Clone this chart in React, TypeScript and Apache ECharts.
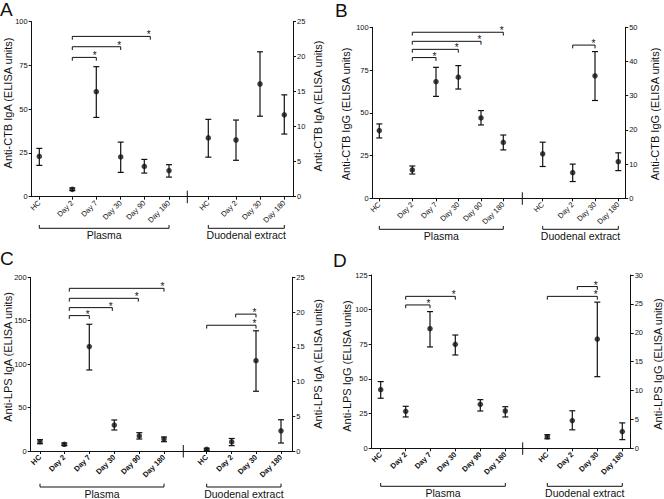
import React, { useEffect, useRef } from "react";
import * as echarts from "echarts";

// ---------- categories ----------
const plasmaCats = ["HC", "Day 2", "Day 7", "Day 30", "Day 90", "Day 180"];
const duodenalCats = ["HC", "Day 2", "Day 30", "Day 180"];
const groupNames = ["Plasma", "Duodenal extract"];

// ---------- Panel A : Anti-CTB IgA ----------
const aPlasmaMean = [23, 4.2, 60, 22.7, 17.3, 14.9];
const aPlasmaLow = [17.9, 3.5, 45.3, 13.9, 13.5, 11.2];
const aPlasmaHigh = [27.6, 5.0, 74.3, 31.2, 21.3, 18.3];
const aDuoMean = [8.4, 8.1, 16.1, 11.7];
const aDuoLow = [5.65, 5.2, 11.5, 8.95];
const aDuoHigh = [11.05, 10.95, 20.7, 14.55];
const aSigPlasma = [[1, 2, 79.6], [1, 3, 85.7], [1, 4, 91.6]];
const aSigDuo: number[][] = [];

// ---------- Panel B : Anti-CTB IgG ----------
const bPlasmaMean = [39.6, 16.6, 68.2, 70.8, 47, 32.7];
const bPlasmaLow = [35.3, 14.2, 59.6, 63.9, 42.9, 28.3];
const bPlasmaHigh = [43.5, 18.9, 76.6, 77.6, 51.3, 37];
const bDuoMean = [13.0, 7.5, 35.8, 10.7];
const bDuoLow = [9.3, 4.9, 28.6, 8.1];
const bDuoHigh = [16.4, 10.0, 42.9, 13.3];
const bSigPlasma = [[1, 2, 82.3], [1, 3, 87.1], [1, 4, 91.8], [1, 5, 97.1]];
const bSigDuo = [[1, 2, 44.8]];

// ---------- Panel C : Anti-LPS IgA ----------
const cPlasmaMean = [10.7, 7.7, 120.2, 29.9, 17.3, 13.8];
const cPlasmaLow = [8.4, 6.2, 93.3, 24.2, 13.8, 10.7];
const cPlasmaHigh = [13, 9.2, 145.9, 35.7, 21.1, 16.1];
const cDuoMean = [0.24, 1.3, 13.0, 2.9];
const cDuoLow = [0.1, 0.77, 8.6, 1.15];
const cDuoHigh = [0.4, 1.8, 17.3, 4.5];
const cSigPlasma = [[1, 2, 155.9], [1, 3, 165.1], [1, 4, 175.8], [1, 5, 187.3]];
const cSigDuo = [[0, 2, 18.1], [1, 2, 19.7]];

// ---------- Panel D : Anti-LPS IgG ----------
const dPlasmaMean = [42.3, 26.7, 86.3, 75, 31.7, 26.9];
const dPlasmaLow = [36.1, 22.6, 73.1, 67.3, 26.9, 22.6];
const dPlasmaHigh = [48.1, 30.3, 98.6, 81.7, 35.1, 30];
const dDuoMean = [2.0, 4.8, 18.9, 2.9];
const dDuoLow = [1.65, 3.2, 12.4, 1.5];
const dDuoHigh = [2.35, 6.5, 25.3, 4.4];
const dSigPlasma = [[1, 2, 103.4], [1, 3, 109.6]];
const dSigDuo = [[0, 2, 26.3], [1, 2, 28.0]];

// ---------- layout (positions / styles) ----------
const INK = "#111";
const FONT = "'Liberation Sans', Arial, Helvetica, sans-serif";

const panels = [
  {
    letter: "A", letterPos: [0, 0],
    grid: { left: 31.7, top: 21.7, width: 261.3, height: 175 },
    plasmaX: [7.6, 40.6, 64.6, 89, 112.6, 137.3], duoX: [176.6, 204.3, 228.3, 252.6], breakX: 155.6,
    leftMax: 100, leftInt: 25, rightMax: 25, rightInt: 5,
    title: "Anti-CTB IgA (ELISA units)", titleL: [8.3, 103], titleR: [318.3, 106],
    groupGap: 31.6, catFont: 7.5, catWeight: "normal",
    mean: aPlasmaMean, low: aPlasmaLow, high: aPlasmaHigh,
    dMean: aDuoMean, dLow: aDuoLow, dHigh: aDuoHigh,
    sigP: aSigPlasma, sigD: aSigDuo, sigPShift: [[0, 0], [0, 0], [0, 6]], sigDShift: [] as number[][],
  },
  {
    letter: "B", letterPos: [335, 0.5],
    grid: { left: 372.7, top: 27.3, width: 252.5, height: 171 },
    plasmaX: [6.6, 39.6, 63.3, 85.6, 108.3, 130.6], duoX: [170, 200, 222.3, 245.6], breakX: 149.6,
    leftMax: 100, leftInt: 25, rightMax: 50, rightInt: 10,
    title: "Anti-CTB IgG (ELISA units)", titleL: [346, 114], titleR: [654.7, 114],
    groupGap: 31, catFont: 7.5, catWeight: "normal",
    mean: bPlasmaMean, low: bPlasmaLow, high: bPlasmaHigh,
    dMean: bDuoMean, dLow: bDuoLow, dHigh: bDuoHigh,
    sigP: bSigPlasma, sigD: bSigDuo, sigPShift: [[0, 0], [0, 0], [0, 0], [0, 0]], sigDShift: [[0, 0]],
  },
  {
    letter: "C", letterPos: [0, 249],
    grid: { left: 30.7, top: 277.3, width: 261.6, height: 173.7 },
    plasmaX: [9.3, 33.6, 58.6, 83.6, 108.6, 133.3], duoX: [176, 201, 225.3, 250.3], breakX: 152.6,
    leftMax: 200, leftInt: 50, rightMax: 25, rightInt: 5,
    title: "Anti-LPS IgA (ELISA units)", titleL: [8.3, 357], titleR: [318.3, 364],
    groupGap: 36, catFont: 7.5, catWeight: "bold",
    mean: cPlasmaMean, low: cPlasmaLow, high: cPlasmaHigh,
    dMean: cDuoMean, dLow: cDuoLow, dHigh: cDuoHigh,
    sigP: cSigPlasma, sigD: cSigDuo, sigPShift: [[5, 0], [5, -2], [5, -1], [5, 0]], sigDShift: [[0, 0], [4, 0]],
  },
  {
    letter: "D", letterPos: [333, 250.5],
    grid: { left: 371.7, top: 275, width: 259, height: 173.3 },
    plasmaX: [9, 34, 58.3, 83.6, 108.6, 133.6], duoX: [175.6, 200.6, 225.6, 250.6], breakX: 151,
    leftMax: 125, leftInt: 25, rightMax: 30, rightInt: 5,
    title: "Anti-LPS IgG (ELISA units)", titleL: [347, 366], titleR: [657.5, 364],
    groupGap: 38, catFont: 7.5, catWeight: "bold",
    mean: dPlasmaMean, low: dPlasmaLow, high: dPlasmaHigh,
    dMean: dDuoMean, dLow: dDuoLow, dHigh: dDuoHigh,
    sigP: dSigPlasma, sigD: dSigDuo, sigPShift: [[0, 0], [0, 0]], sigDShift: [[0, 0], [5, 0]],
  },
];

const errRender = (params: any, api: any) => {
  const x = api.value(0);
  const lo = api.value(1);
  const hi = api.value(2);
  const a = api.coord([x, hi]);
  const b = api.coord([x, lo]);
  const w = 3;
  const st = { stroke: INK, lineWidth: 1.2 };
  return {
    type: "group",
    children: [
      { type: "line", shape: { x1: a[0], y1: a[1], x2: b[0], y2: b[1] }, style: st },
      { type: "line", shape: { x1: a[0] - w, y1: a[1], x2: a[0] + w, y2: a[1] }, style: st },
      { type: "line", shape: { x1: b[0] - w, y1: b[1], x2: b[0] + w, y2: b[1] }, style: st },
    ],
  };
};

const sigRender = (params: any, api: any) => {
  const x1 = api.value(0);
  const y = api.value(1);
  const x2 = api.value(2);
  const p1 = api.coord([x1, y]);
  const p2 = api.coord([x2, y]);
  return {
    type: "group",
    children: [
      {
        type: "polyline",
        shape: { points: [[p1[0], p1[1] + 3.3], [p1[0], p1[1]], [p2[0], p2[1]], [p2[0], p2[1] + 3.3]] },
        style: { stroke: INK, fill: "none", lineWidth: 1 },
      },
      {
        type: "text",
        x: p2[0] - 1.5,
        y: p2[1] + 3.5,
        style: { text: "*", fontSize: 10, fontFamily: FONT, fill: INK, align: "center", verticalAlign: "bottom" },
      },
    ],
  };
};

const breakRender = (params: any, api: any) => {
  const p = api.coord([api.value(0), 0]);
  return {
    type: "line",
    shape: { x1: p[0], y1: p[1] - 6, x2: p[0], y2: p[1] + 6.5 },
    style: { stroke: INK, lineWidth: 1 },
  };
};

const makeGroupRender = (gap: number) => (params: any, api: any) => {
  const p1 = api.coord([api.value(0), 0]);
  const p2 = api.coord([api.value(2), 0]);
  const y = p1[1] + gap;
  return {
    type: "group",
    children: [
      {
        type: "polyline",
        shape: { points: [[p1[0], y - 3.3], [p1[0], y], [p2[0], y], [p2[0], y - 3.3]] },
        style: { stroke: INK, fill: "none", lineWidth: 1 },
      },
      {
        type: "text",
        x: (p1[0] + p2[0]) / 2,
        y: y + 1.5,
        style: {
          text: groupNames[params.dataIndex], fontSize: 10.5, fontFamily: FONT, fill: INK,
          align: "center", verticalAlign: "top",
        },
      },
    ],
  };
};

function buildOption() {
  const grid: any[] = [];
  const xAxis: any[] = [];
  const yAxis: any[] = [];
  const series: any[] = [];
  const graphic: any[] = [];

  panels.forEach((p, i) => {
    grid.push({ ...p.grid });
    const xs = [...p.plasmaX, ...p.duoX];
    const names = [...plasmaCats, ...duodenalCats];
    xAxis.push({
      gridIndex: i, type: "value", min: 0, max: p.grid.width,
      axisLine: { show: true, onZero: false, lineStyle: { color: INK, width: 1 } },
      axisTick: { show: true, customValues: xs, length: 3, lineStyle: { color: INK, width: 1 } },
      axisLabel: {
        show: true, customValues: xs, rotate: 45, margin: 5, fontSize: p.catFont,
        fontWeight: p.catWeight, color: INK, fontFamily: FONT,
        formatter: (v: number) => {
          const k = xs.indexOf(v);
          return k >= 0 ? names[k] : "";
        },
      },
      splitLine: { show: false },
    });
    const yBase = (max: number, interval: number, position: string) => ({
      gridIndex: i, type: "value", min: 0, max, interval, position,
      axisLine: { show: true, lineStyle: { color: INK, width: 1 } },
      axisTick: { show: true, length: 3, lineStyle: { color: INK, width: 1 } },
      axisLabel: { fontSize: 7.5, margin: 4, color: INK, fontFamily: FONT },
      splitLine: { show: false },
    });
    yAxis.push(yBase(p.leftMax, p.leftInt, "left"));
    yAxis.push(yBase(p.rightMax, p.rightInt, "right"));
    const yl = 2 * i;
    const yr = 2 * i + 1;

    series.push({
      type: "custom", xAxisIndex: i, yAxisIndex: yl, clip: false, silent: true,
      renderItem: errRender, data: p.plasmaX.map((x, k) => [x, p.low[k], p.high[k]]),
    });
    series.push({
      type: "custom", xAxisIndex: i, yAxisIndex: yr, clip: false, silent: true,
      renderItem: errRender, data: p.duoX.map((x, k) => [x, p.dLow[k], p.dHigh[k]]),
    });
    series.push({
      type: "scatter", xAxisIndex: i, yAxisIndex: yl, symbol: "circle", symbolSize: 5.5, silent: true, z: 3,
      itemStyle: { color: INK }, data: p.plasmaX.map((x, k) => [x, p.mean[k]]),
    });
    series.push({
      type: "scatter", xAxisIndex: i, yAxisIndex: yr, symbol: "circle", symbolSize: 5.5, silent: true, z: 3,
      itemStyle: { color: INK }, data: p.duoX.map((x, k) => [x, p.dMean[k]]),
    });
    series.push({
      type: "custom", xAxisIndex: i, yAxisIndex: yl, clip: false, silent: true, renderItem: sigRender,
      data: p.sigP.map((s, k) => [
        p.plasmaX[s[0]] + (p.sigPShift[k] ? p.sigPShift[k][0] : 0), s[2],
        p.plasmaX[s[1]] + (p.sigPShift[k] ? p.sigPShift[k][1] : 0),
      ]),
    });
    if (p.sigD.length) {
      series.push({
        type: "custom", xAxisIndex: i, yAxisIndex: yr, clip: false, silent: true, renderItem: sigRender,
        data: p.sigD.map((s, k) => [
          p.duoX[s[0]] + (p.sigDShift[k] ? p.sigDShift[k][0] : 0), s[2],
          p.duoX[s[1]] + (p.sigDShift[k] ? p.sigDShift[k][1] : 0),
        ]),
      });
    }
    series.push({
      type: "custom", xAxisIndex: i, yAxisIndex: yl, clip: false, silent: true, renderItem: breakRender,
      data: [[p.breakX, 0]],
    });
    series.push({
      type: "custom", xAxisIndex: i, yAxisIndex: yl, clip: false, silent: true,
      renderItem: makeGroupRender(p.groupGap),
      data: [
        [p.plasmaX[0], 0, p.plasmaX[p.plasmaX.length - 1]],
        [p.duoX[0], 0, p.duoX[p.duoX.length - 1]],
      ],
    });

    graphic.push({
      type: "text", x: p.letterPos[0], y: p.letterPos[1],
      style: { text: p.letter, fontSize: 19, fontFamily: FONT, fill: INK, align: "left", verticalAlign: "top" },
    });
    graphic.push({
      type: "text", x: p.titleL[0], y: p.titleL[1], rotation: Math.PI / 2,
      style: { text: p.title, fontSize: 11, fontFamily: FONT, fill: INK, align: "center", verticalAlign: "middle" },
    });
    graphic.push({
      type: "text", x: p.titleR[0], y: p.titleR[1], rotation: Math.PI / 2,
      style: { text: p.title, fontSize: 11, fontFamily: FONT, fill: INK, align: "center", verticalAlign: "middle" },
    });
  });

  return {
    animation: false,
    backgroundColor: "#ffffff",
    textStyle: { fontFamily: FONT },
    grid, xAxis, yAxis, series, graphic,
  };
}

export default function App() {
  const ref = useRef<HTMLDivElement>(null);
  useEffect(() => {
    if (!ref.current) return;
    const chart = echarts.init(ref.current, null, { renderer: "svg" });
    chart.setOption(buildOption() as any);
    return () => chart.dispose();
  }, []);
  return (
    <div
      ref={ref}
      style={{ position: "absolute", left: 0, top: 0, width: 664, height: 499, background: "#fff" }}
    />
  );
}
